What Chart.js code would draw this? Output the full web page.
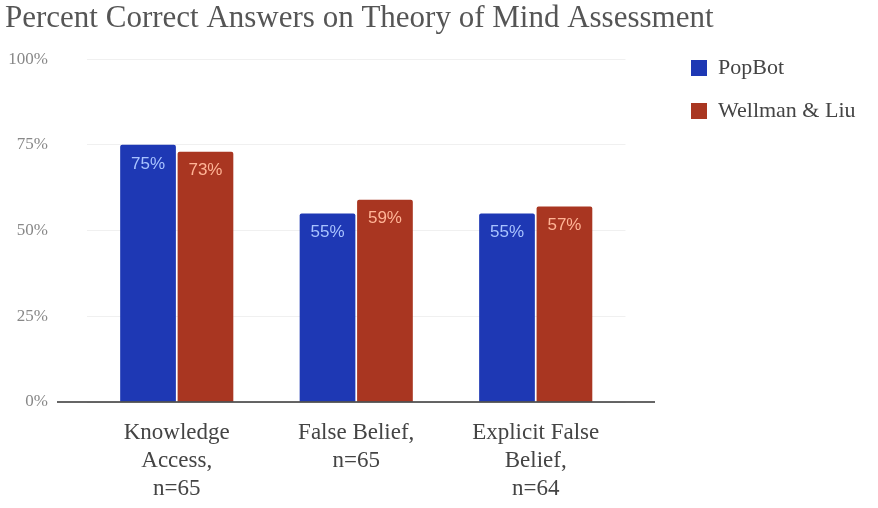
<!DOCTYPE html>
<html>
<head>
<meta charset="utf-8">
<script src="https://cdn.jsdelivr.net/npm/chart.js@4"></script>
<style>
  html, body { margin: 0; padding: 0; background: #fff; }
  #wrap { width: 878px; height: 508px; }
</style>
</head>
<body>
<div id="wrap"><canvas id="chart" width="878" height="508"></canvas></div>
<script>
// données
const categories = [
  ['Knowledge', 'Access,', 'n=65'],
  ['False Belief,', 'n=65'],
  ['Explicit False', 'Belief,', 'n=64']
];
const popbot = [75, 55, 55];
const wellman = [73, 59, 57];
const yTicks = [0, 25, 50, 75, 100];

const SERIF = '"Liberation Serif", "Times New Roman", serif';
const SANS = '"Liberation Sans", Arial, sans-serif';

// ligne de base plus large que la zone des barres
const baseline = {
  id: 'baseline',
  afterDatasetsDraw(chart) {
    const y = chart.scales.y.getPixelForValue(0);
    const ctx = chart.ctx;
    ctx.save();
    ctx.strokeStyle = '#333';
    ctx.lineWidth = 1.5;
    ctx.beginPath();
    ctx.moveTo(57, y);
    ctx.lineTo(655, y);
    ctx.stroke();
    ctx.restore();
  }
};

// étiquettes de valeur dans le haut des barres
const barLabels = {
  id: 'barLabels',
  afterDatasetsDraw(chart) {
    const ctx = chart.ctx;
    const colors = ['#a9c3ff', '#ffb496'];
    ctx.save();
    ctx.font = '17px ' + SANS;
    ctx.textAlign = 'center';
    ctx.textBaseline = 'middle';
    chart.data.datasets.forEach((ds, di) => {
      const meta = chart.getDatasetMeta(di);
      ctx.fillStyle = colors[di];
      meta.data.forEach((bar, i) => {
        ctx.fillText(ds.data[i] + '%', bar.x, bar.y + 19);
      });
    });
    ctx.restore();
  }
};

// place la légende comme sur l'original
const legendPos = {
  id: 'legendPos',
  afterLayout(chart) {
    const l = chart.legend;
    const pad = l.options.labels.padding;
    const dx = 691 - pad - l.left;
    l.left += dx; l.right += dx;
    const dy = 57 - pad - l.top;
    l.top += dy; l.bottom += dy;
  }
};

new Chart(document.getElementById('chart'), {
  type: 'bar',
  data: {
    labels: categories,
    datasets: [
      {
        label: 'PopBot',
        data: popbot,
        backgroundColor: '#1e38b4',
        borderRadius: 2,
        borderSkipped: 'bottom'
      },
      {
        label: 'Wellman & Liu',
        data: wellman,
        backgroundColor: '#a93621',
        borderRadius: 2,
        borderSkipped: 'bottom'
      }
    ]
  },
  options: {
    responsive: false,
    animation: false,
    devicePixelRatio: 1,
    layout: { padding: { left: 5, right: 57, top: 0, bottom: 0 } },
    datasets: { bar: { categoryPercentage: 0.64, barPercentage: 0.97 } },
    plugins: {
      title: {
        display: true,
        text: 'Percent Correct Answers on Theory of Mind Assessment',
        align: 'start',
        color: '#555',
        font: { family: SERIF, size: 31, weight: 'normal', lineHeight: 1.1 },
        padding: { top: 2, bottom: 23 }
      },
      legend: {
        position: 'right',
        align: 'start',
        labels: {
          boxWidth: 16,
          boxHeight: 16,
          padding: 21,
          color: '#444',
          font: { family: SERIF, size: 22 }
        }
      },
      tooltip: { enabled: false }
    },
    scales: {
      x: {
        grid: { display: false, drawTicks: false },
        border: { display: false },
        ticks: {
          color: '#444',
          padding: 17,
          maxRotation: 0,
          autoSkip: false,
          font: { family: SERIF, size: 23, lineHeight: 1.22 }
        },
        afterFit(scale) { scale.height = 106; }
      },
      y: {
        min: 0,
        max: 100,
        afterBuildTicks(scale) { scale.ticks = yTicks.map(v => ({ value: v })); },
        grid: { color: '#f0f0f0', drawTicks: false },
        border: { display: false },
        ticks: {
          color: '#888',
          padding: 39,
          font: { family: SERIF, size: 17 },
          callback: v => v + '%'
        },
        afterFit(scale) { scale.width = 82; }
      }
    }
  },
  plugins: [baseline, barLabels, legendPos]
});
</script>
</body>
</html>
